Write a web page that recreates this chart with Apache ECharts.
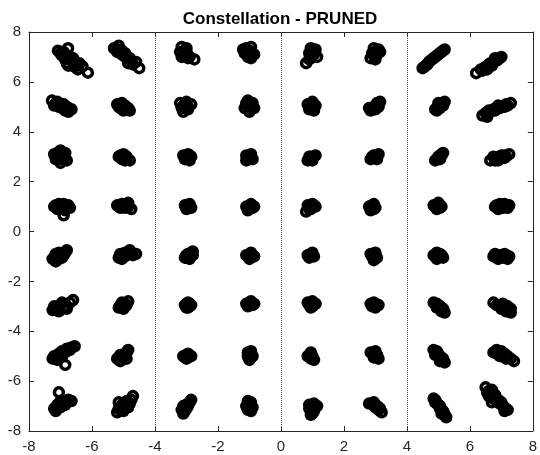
<!DOCTYPE html>
<html>
<head>
  <meta charset="UTF-8" />
  <title>Constellation - PRUNED</title>
  <style>
    * { margin: 0; padding: 0; }
    html, body { width: 540px; height: 455px; background: #fff; }
    #chart { width: 540px; height: 455px; }
  </style>
</head>
<body>
  <div id="chart"></div>
  <script src="https://cdn.jsdelivr.net/npm/echarts@6/dist/echarts.min.js"></script>
  <script>
    // received symbols, one array per in-phase column (rows 7 ... -7)
    var colM7 = [
      [-7.08,7.25],[-6.76,7.35],[-6.95,7.05],[-6.85,6.9],[-6.7,7.0],[-6.6,6.8],[-6.75,6.65],[-6.55,6.6],[-6.4,6.75],[-6.3,6.62],[-6.45,6.5],[-6.13,6.37],
      [-6.9,7.2],[-6.65,6.85],[-6.5,6.7],[-6.8,6.75],[-7.0,7.15],[-6.6,6.95],
      [-7.27,5.25],[-7.1,5.2],[-7.2,5.05],[-7.0,5.05],[-6.95,4.95],[-6.8,5.0],[-6.85,4.85],[-6.65,4.9],[-7.05,5.15],[-6.75,4.8],
      [-7.15,5.15],[-6.9,5.1],[-7.05,5.0],[-6.75,4.95],[-6.9,5.0],
      [-7.2,3.1],[-7.0,3.25],[-6.85,3.15],[-7.15,2.9],[-6.95,2.95],[-6.8,2.85],[-7.05,3.05],[-7.0,2.75],
      [-7.1,3.15],[-6.9,3.05],[-7.0,2.9],[-7.1,3.0],[-6.9,2.9],
      [-7.2,1.0],[-7.05,1.1],[-6.9,1.1],[-6.75,1.05],[-7.1,0.9],[-6.95,0.95],[-6.7,0.95],[-6.9,0.65],
      [-7.0,1.0],[-6.85,1.0],[-7.15,1.05],[-6.85,0.85],
      [-7.25,-1.1],[-7.15,-1.2],[-7.1,-1.0],[-7.0,-0.95],[-6.95,-1.05],[-6.85,-0.85],[-6.8,-0.75],[-7.15,-0.9],
      [-7.05,-1.1],[-6.9,-0.95],[-7.2,-1.05],[-7.05,-0.85],
      [-7.25,-3.15],[-7.15,-3.05],[-7.05,-3.2],[-7.0,-2.95],[-6.9,-3.05],[-6.8,-3.1],[-6.95,-2.85],[-6.6,-2.75],[-7.2,-3.0],
      [-7.1,-3.1],[-7.05,-3.0],[-6.85,-3.0],[-7.15,-3.15],[-6.7,-2.85],
      [-7.25,-5.1],[-7.15,-5.0],[-7.05,-4.9],[-6.95,-4.8],[-6.8,-4.7],[-6.65,-4.65],[-6.55,-4.6],[-7.1,-5.15],[-6.95,-5.0],[-6.85,-5.35],
      [-7.05,-5.05],[-6.85,-4.85],[-7.2,-5.0],[-6.7,-4.75],[-7.0,-4.95],
      [-7.2,-7.1],[-7.1,-6.95],[-7.0,-7.05],[-6.95,-6.85],[-6.8,-6.85],[-6.65,-6.8],[-7.05,-6.45],[-6.9,-6.95],[-7.15,-7.2],
      [-7.05,-6.95],[-6.85,-6.95],[-7.1,-7.1],[-6.75,-6.75],[-7.0,-6.8]
    ];
    var colM5 = [
      [-5.3,7.35],[-5.15,7.45],[-5.2,7.2],[-5.05,7.25],[-5.0,7.05],[-4.9,6.95],[-4.75,6.85],[-4.85,6.75],[-4.6,6.8],[-4.5,6.55],
      [-5.1,7.3],[-5.05,7.1],[-4.95,7.15],[-4.8,6.95],[-5.2,7.3],[-4.7,6.7],
      [-5.2,5.1],[-5.05,5.15],[-4.95,5.05],[-5.1,4.95],[-4.9,4.9],[-4.8,4.85],[-5.15,5.0],[-5.0,4.85],
      [-5.05,5.0],[-4.95,4.95],[-5.15,5.1],[-4.85,4.95],
      [-5.15,3.0],[-5.0,3.1],[-4.9,3.0],[-5.05,2.9],[-4.8,2.85],[-4.95,2.85],
      [-5.05,3.0],[-4.9,2.9],[-5.1,3.05],[-4.95,3.05],
      [-5.2,1.05],[-5.05,1.1],[-4.85,1.15],[-5.1,0.95],[-4.95,0.95],[-4.75,0.9],
      [-5.0,1.0],[-4.9,1.05],[-5.15,1.0],[-4.85,1.0],
      [-5.15,-1.05],[-5.05,-1.1],[-4.95,-1.0],[-5.1,-0.9],[-4.95,-0.85],[-4.8,-0.75],[-4.6,-0.9],[-4.7,-0.95],
      [-5.0,-0.95],[-4.85,-0.9],[-5.1,-1.0],[-4.75,-0.85],
      [-5.15,-3.05],[-5.0,-3.1],[-4.9,-2.95],[-5.05,-2.85],[-4.85,-2.8],[-4.95,-3.0],
      [-5.0,-2.95],[-5.1,-2.95],[-4.95,-2.9],[-5.05,-3.05],
      [-5.2,-5.1],[-5.1,-5.2],[-5.0,-5.0],[-5.1,-4.95],[-4.95,-4.9],[-4.85,-4.75],[-4.9,-5.1],
      [-5.05,-5.05],[-4.95,-5.0],[-5.15,-5.05],[-4.9,-4.85],
      [-5.2,-7.25],[-5.15,-7.1],[-5.05,-7.05],[-4.95,-6.95],[-4.85,-6.85],[-4.75,-6.75],[-4.7,-6.6],[-5.15,-6.85],[-5.0,-7.2],[-4.85,-7.05],
      [-5.05,-6.95],[-4.95,-7.05],[-5.1,-7.15],[-4.8,-6.9],[-4.9,-6.8]
    ];
    var colM3 = [
      [-3.15,7.4],[-3.0,7.35],[-3.2,7.2],[-3.05,7.15],[-3.15,7.0],[-2.95,6.95],[-2.75,6.9],[-3.0,7.05],
      [-3.05,7.25],[-3.1,7.1],[-2.9,7.0],[-3.0,7.2],
      [-3.2,5.15],[-3.0,5.2],[-2.85,5.1],[-3.15,4.95],[-2.95,4.9],[-3.05,5.05],[-3.1,4.8],
      [-3.05,5.1],[-2.95,5.0],[-3.1,5.05],[-3.0,4.95],
      [-3.1,3.05],[-2.95,3.1],[-2.85,3.0],[-3.05,2.9],[-2.9,2.85],
      [-3.0,3.0],[-2.95,2.95],[-3.05,3.0],[-2.9,3.05],
      [-3.05,1.05],[-2.9,1.1],[-2.85,0.95],[-3.0,0.9],[-2.95,1.0],
      [-2.95,1.05],[-3.0,0.95],[-2.9,1.0],[-2.95,0.95],
      [-3.05,-1.05],[-2.95,-0.9],[-2.8,-0.8],[-2.9,-1.1],[-3.0,-0.95],[-2.8,-0.95],
      [-2.95,-1.0],[-2.9,-0.95],[-2.85,-0.85],[-3.0,-1.05],
      [-3.05,-2.95],[-2.95,-2.85],[-2.85,-2.95],[-3.0,-3.05],[-2.9,-3.0],
      [-2.95,-2.95],[-3.0,-2.9],[-2.9,-2.9],[-2.95,-3.05],
      [-3.1,-5.0],[-2.95,-4.9],[-2.85,-5.0],[-3.0,-5.1],[-2.9,-5.0],
      [-2.95,-5.0],[-3.0,-4.95],[-2.95,-5.05],[-3.05,-5.05],
      [-3.1,-7.3],[-3.05,-7.1],[-3.0,-6.95],[-2.9,-6.85],[-2.85,-6.75],[-3.15,-7.15],[-2.95,-7.0],
      [-3.0,-7.1],[-3.05,-7.2],[-2.95,-6.9],[-3.1,-7.0]
    ];
    var colM1 = [
      [-1.1,7.35],[-0.95,7.4],[-1.15,7.15],[-0.95,7.2],[-1.05,7.0],[-0.85,7.1],[-0.95,6.95],[-1.2,7.3],
      [-1.0,7.25],[-1.05,7.1],[-0.95,7.05],[-1.1,7.2],
      [-1.1,5.15],[-0.9,5.15],[-1.15,4.95],[-0.85,4.95],[-1.0,4.8],[-1.0,5.05],[-1.05,5.25],
      [-1.0,5.1],[-1.05,5.0],[-0.95,5.0],[-0.95,4.9],
      [-1.1,3.05],[-0.95,3.1],[-0.9,2.9],[-1.1,2.85],[-0.95,2.95],
      [-1.0,3.0],[-1.05,2.95],[-0.95,3.0],[-1.0,2.9],
      [-1.1,1.0],[-0.95,1.1],[-0.85,1.0],[-1.05,0.85],[-0.95,0.95],
      [-1.0,1.0],[-0.95,1.05],[-1.0,0.95],[-0.9,0.95],
      [-1.1,-0.95],[-0.95,-0.85],[-0.85,-1.0],[-1.0,-1.1],[-0.95,-1.0],
      [-1.0,-0.95],[-0.95,-0.95],[-1.05,-1.0],[-0.9,-0.95],
      [-1.1,-2.9],[-0.95,-2.8],[-0.85,-2.9],[-1.05,-3.0],[-0.95,-2.95],
      [-1.0,-2.9],[-0.95,-2.9],[-1.0,-2.85],[-0.9,-2.95],
      [-1.05,-4.85],[-0.95,-4.8],[-0.9,-5.0],[-1.0,-5.15],[-1.05,-5.0],
      [-1.0,-4.95],[-0.95,-4.95],[-1.0,-5.05],[-0.95,-5.05],
      [-1.05,-6.8],[-0.95,-6.85],[-0.9,-7.05],[-1.05,-7.15],[-1.1,-7.0],[-0.95,-7.2],
      [-1.0,-7.0],[-0.95,-7.05],[-1.0,-6.9],[-1.0,-7.1]
    ];
    var colP1 = [
      [0.95,7.35],[1.1,7.3],[0.9,7.15],[1.05,7.1],[1.15,7.0],[0.95,6.95],[0.8,6.75],
      [1.0,7.2],[1.0,7.05],[1.05,7.25],[0.95,7.25],[0.9,6.9],
      [0.85,5.1],[1.0,5.2],[1.1,5.05],[0.9,4.9],[1.05,4.85],[1.0,5.0],
      [0.95,5.05],[1.0,5.1],[0.95,4.95],[1.05,5.0],
      [0.85,2.85],[0.95,3.0],[1.1,3.05],[1.0,2.85],[0.9,3.0],
      [1.0,2.95],[0.95,2.95],[1.05,3.0],[0.95,2.9],
      [0.85,1.05],[1.0,1.1],[1.1,1.0],[0.95,0.9],[0.8,0.8],[1.0,1.0],
      [0.95,1.0],[0.9,1.0],[1.05,1.05],[0.9,0.9],
      [0.85,-0.95],[1.0,-0.85],[1.05,-1.0],[0.9,-1.05],[0.95,-0.95],
      [0.95,-1.0],[1.0,-0.95],[0.95,-0.9],[0.9,-0.95],
      [0.85,-2.85],[1.0,-2.8],[1.1,-2.9],[0.95,-3.05],[0.9,-2.95],
      [0.95,-2.9],[1.0,-2.9],[1.0,-3.0],[0.95,-2.85],
      [0.85,-5.0],[0.95,-4.85],[1.0,-5.0],[1.05,-5.15],[0.95,-5.1],
      [0.95,-5.0],[0.95,-4.95],[1.0,-5.1],[0.9,-4.95],
      [0.9,-6.95],[1.05,-6.9],[1.15,-7.0],[0.95,-7.15],[1.05,-7.2],[0.95,-7.35],[0.9,-7.1],
      [1.0,-7.05],[1.0,-7.15],[1.05,-7.05],[1.0,-7.3]
    ];
    var colP3 = [
      [2.95,7.35],[3.1,7.3],[2.9,7.15],[3.05,7.1],[3.15,7.2],[2.85,6.95],[3.0,6.9],
      [3.0,7.2],[3.05,7.25],[2.95,7.05],[3.0,7.0],
      [2.8,4.95],[2.85,4.85],[2.95,5.0],[3.05,5.1],[3.15,5.2],[3.0,4.9],[3.1,5.0],
      [2.95,4.95],[3.05,5.05],[2.9,4.9],[3.05,5.15],
      [2.85,2.9],[2.95,3.05],[3.1,3.1],[3.05,2.9],[2.9,3.0],
      [3.0,3.0],[2.95,2.95],[3.05,3.0],[3.0,3.05],
      [2.8,1.0],[2.95,1.1],[3.0,0.95],[2.85,0.85],[2.9,1.0],
      [2.9,0.95],[2.95,1.0],[2.9,1.05],[2.95,0.9],
      [2.85,-0.9],[3.0,-0.85],[3.05,-1.05],[2.95,-1.15],[2.9,-1.0],
      [2.95,-0.95],[3.0,-1.0],[2.95,-1.05],[2.9,-0.9],
      [2.85,-2.9],[2.95,-2.85],[3.1,-2.95],[3.0,-3.05],[2.9,-3.0],
      [2.95,-2.95],[3.0,-2.9],[3.0,-3.0],[2.9,-2.9],
      [2.85,-4.85],[3.0,-4.8],[3.05,-4.95],[3.1,-5.1],[2.95,-5.05],
      [3.0,-4.95],[3.0,-5.0],[2.95,-4.9],[3.05,-5.05],
      [2.8,-6.9],[2.95,-6.85],[3.05,-7.0],[3.15,-7.1],[3.2,-7.25],[3.0,-7.05],
      [3.0,-6.95],[3.1,-7.15],[2.9,-6.9],[3.1,-7.05]
    ];
    var colP5 = [
      [4.5,6.55],[4.6,6.65],[4.7,6.8],[4.8,6.9],[4.9,7.0],[5.0,7.1],[5.1,7.2],[5.2,7.3],[4.65,6.7],[4.95,7.05],
      [4.75,6.85],[4.85,6.95],[5.05,7.15],[4.55,6.6],[5.15,7.25],
      [4.9,4.9],[5.0,5.0],[5.1,5.1],[5.2,5.2],[5.0,5.15],[5.15,5.05],[4.95,4.85],
      [5.05,5.05],[5.1,5.15],[4.95,4.95],[5.05,4.95],
      [4.9,2.85],[5.0,2.95],[5.1,3.05],[5.15,3.15],[5.05,2.9],
      [5.0,3.0],[5.05,3.05],[4.95,2.9],[5.1,3.1],
      [4.85,1.05],[5.0,1.15],[5.1,1.0],[4.95,0.9],[5.0,1.0],
      [4.95,1.0],[5.05,1.05],[4.9,1.0],[5.05,0.95],
      [4.85,-0.95],[4.95,-0.85],[5.1,-0.95],[5.15,-1.05],[4.95,-1.1],[5.0,-1.0],
      [5.0,-0.95],[5.05,-1.0],[4.9,-1.0],[5.05,-0.9],
      [4.85,-2.85],[4.95,-2.9],[5.05,-3.0],[5.15,-3.1],[5.2,-3.25],[4.95,-3.05],
      [5.0,-2.95],[5.1,-3.05],[4.9,-2.9],[5.1,-3.2],
      [4.85,-4.75],[4.95,-4.8],[4.9,-4.95],[5.05,-5.0],[5.15,-5.1],[5.2,-5.25],[5.05,-5.2],
      [5.0,-4.9],[5.1,-5.05],[4.95,-4.85],[5.15,-5.2],
      [4.85,-6.7],[4.9,-6.85],[5.0,-6.95],[5.05,-7.1],[5.15,-7.2],[5.2,-7.35],[5.25,-7.45],[5.1,-7.3],
      [4.95,-6.9],[5.05,-7.0],[5.1,-7.15],[5.15,-7.3],[4.9,-6.75]
    ];
    var colP7 = [
      [6.2,6.35],[6.35,6.5],[6.5,6.6],[6.6,6.7],[6.75,6.8],[6.9,6.9],[7.0,7.0],[6.8,6.95],[6.55,6.5],[6.7,6.65],
      [6.65,6.75],[6.85,6.85],[6.45,6.55],[6.95,6.95],[6.4,6.45],
      [6.4,4.65],[6.5,4.75],[6.6,4.85],[6.75,4.9],[6.85,4.95],[7.0,5.0],[7.15,5.1],[7.3,5.15],[6.55,4.6],[6.9,5.05],
      [6.65,4.8],[6.8,4.85],[6.95,4.95],[7.1,5.0],[7.2,5.05],[6.55,4.7],
      [6.65,2.85],[6.8,2.9],[6.95,3.0],[7.1,3.05],[7.25,3.1],[6.9,2.85],[7.1,2.95],[6.75,3.0],
      [6.85,2.95],[7.0,2.95],[7.15,3.0],[6.8,2.85],[7.0,3.05],
      [6.8,1.0],[6.95,1.1],[7.1,1.1],[7.25,1.05],[6.9,0.9],[7.05,0.95],[7.2,0.95],
      [6.95,1.0],[7.1,1.0],[6.85,1.05],[7.15,1.05],
      [6.75,-1.0],[6.8,-0.9],[6.95,-0.95],[7.1,-0.9],[7.25,-1.0],[6.9,-1.1],[7.05,-1.05],[7.2,-1.1],
      [6.95,-1.0],[7.1,-1.0],[6.85,-1.0],[7.15,-0.95],
      [6.75,-2.85],[6.95,-2.95],[7.05,-2.9],[7.2,-3.0],[7.3,-3.1],[7.0,-3.1],[7.15,-3.2],[7.3,-3.25],
      [7.05,-3.0],[7.15,-3.1],[7.25,-3.15],[6.85,-2.95],
      [6.75,-4.85],[6.85,-4.75],[7.0,-4.8],[7.1,-4.9],[7.2,-5.0],[6.95,-5.0],[7.15,-5.1],[7.4,-5.2],
      [6.9,-4.85],[7.05,-4.95],[7.2,-5.05],[6.8,-4.85],[7.3,-5.1],
      [6.5,-6.25],[6.55,-6.45],[6.7,-6.35],[6.6,-6.6],[6.75,-6.7],[6.85,-6.8],[6.95,-6.9],[7.05,-7.0],[7.2,-7.15],[6.8,-6.55],[7.1,-7.2],[6.7,-6.85],
      [6.65,-6.5],[6.75,-6.6],[6.9,-6.75],[7.0,-6.85],[7.1,-7.05],[6.6,-6.4]
    ];
    var ticks = [-8, -6, -4, -2, 0, 2, 4, 6, 8];
    var dividers = [-4, 0, 4]; // dotted partition lines

    var points = [].concat(colM7, colM5, colM3, colM1, colP1, colP3, colP5, colP7);
    var font = 'Liberation Sans, Arial, sans-serif';

    function axis(pos, showLabel) {
      return {
        type: 'value',
        position: pos,
        min: ticks[0],
        max: ticks[ticks.length - 1],
        interval: 2,
        axisLine: { show: true, onZero: false, lineStyle: { color: '#262626', width: 1 } },
        axisTick: { show: true, inside: true, length: 5, lineStyle: { color: '#262626' } },
        axisLabel: { show: showLabel, color: '#262626', fontSize: 15, fontFamily: font, margin: 8 },
        splitLine: { show: false }
      };
    }

    var myChart = echarts.init(document.getElementById('chart'));
    myChart.setOption({
      animation: false,
      backgroundColor: '#fff',
      title: {
        text: 'Constellation - PRUNED',
        left: 275,
        textAlign: 'center',
        top: 6,
        textStyle: { fontSize: 17, fontWeight: 'bold', color: '#000', fontFamily: font }
      },
      grid: { left: 29, right: 4, top: 32, bottom: 24 },
      xAxis: [axis('bottom', true), axis('top', false)],
      yAxis: [axis('left', true), axis('right', false)],
      series: [
        {
          type: 'scatter',
          data: points,
          symbol: 'circle',
          symbolSize: 9,
          itemStyle: { color: 'rgba(0,0,0,0)', borderColor: '#000', borderWidth: 3.5, opacity: 1 },
          markLine: {
            silent: true,
            symbol: 'none',
            label: { show: false },
            lineStyle: { color: '#444', type: 'dotted', width: 1 },
            data: dividers.map(function (v) { return { xAxis: v }; })
          }
        }
      ]
    });
  </script>
</body>
</html>
